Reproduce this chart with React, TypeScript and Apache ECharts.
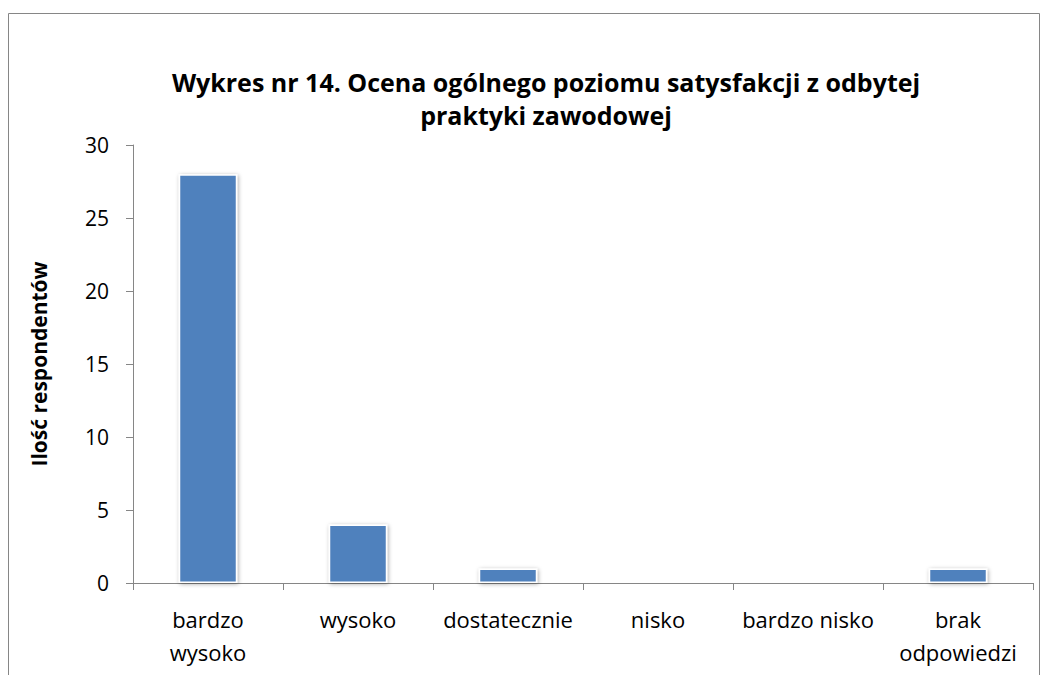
import React, { useEffect, useRef } from "react";
import * as echarts from "echarts";

const titleText = "Wykres nr 14. Ocena ogólnego poziomu satysfakcji z odbytej\npraktyki zawodowej";
const yAxisName = "Ilość respondentów";
const categories = ["bardzo\nwysoko", "wysoko", "dostatecznie", "nisko", "bardzo nisko", "brak\nodpowiedzi"];
const values = [28, 4, 1, 0, 0, 1];

export default function App() {
  const ref = useRef<HTMLDivElement>(null);
  useEffect(() => {
    if (!ref.current) return;
    const chart = echarts.init(ref.current, null, { renderer: "svg" });
    const font = "'Open Sans', sans-serif";
    chart.setOption({
      animation: false,
      backgroundColor: "#ffffff",
      textStyle: { fontFamily: font },
      graphic: [
        {
          type: "rect",
          shape: { x: 8.5, y: 13.5, width: 1031, height: 700 },
          style: { fill: "none", stroke: "#868686", lineWidth: 1 },
          silent: true,
        },
      ],
      title: {
        text: titleText,
        left: 541,
        textAlign: "center",
        top: 60,
        textStyle: { fontFamily: font, fontSize: 25, fontWeight: "bold", color: "#000", lineHeight: 33 },
      },
      grid: { left: 133, right: 16, top: 145, bottom: 92, containLabel: false },
      xAxis: {
        type: "category",
        data: categories,
        axisLine: { lineStyle: { color: "#868686", width: 1 } },
        axisTick: { show: true, length: 7, alignWithLabel: false, lineStyle: { color: "#868686" } },
        axisLabel: { color: "#000", fontSize: 22, fontFamily: font, margin: 19, lineHeight: 33, interval: 0 },
      },
      yAxis: {
        type: "value",
        min: 0,
        max: 30,
        interval: 5,
        name: yAxisName,
        nameLocation: "middle",
        nameGap: 84,
        nameTextStyle: { color: "#000", fontSize: 21, fontWeight: "bold", fontFamily: font },
        axisLine: { show: true, lineStyle: { color: "#868686" } },
        axisTick: { show: true, length: 7, lineStyle: { color: "#868686" } },
        splitLine: { show: false },
        axisLabel: { color: "#000", fontSize: 21, fontFamily: font, margin: 24 },
      },
      series: [
        {
          type: "bar",
          data: values,
          barWidth: "39%",
          itemStyle: {
            color: "#4F81BD",
            borderColor: "#ffffff",
            borderWidth: 1.5,
            shadowBlur: 4,
            shadowColor: "rgba(0,0,0,0.35)",
            shadowOffsetX: 1,
            shadowOffsetY: 1,
          },
        },
      ],
    });
    return () => chart.dispose();
  }, []);
  return <div ref={ref} style={{ position: "absolute", left: 0, top: 0, width: 1049, height: 675 }} />;
}
